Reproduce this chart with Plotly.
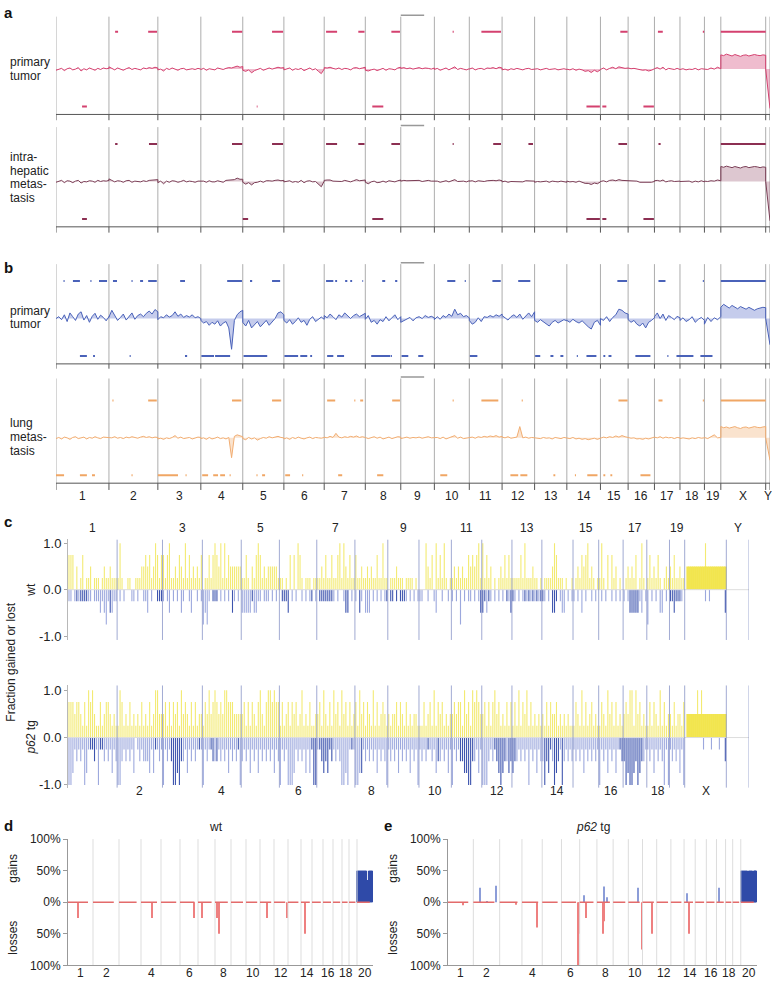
import plotly.graph_objects as go

W, H = 772, 994

# ---------------- data ----------------
CHROMS = [str(i) for i in range(1, 20)] + ['X', 'Y']
CHR_LEN_MB = [197, 182, 160, 156, 153, 150, 153, 132, 125, 130, 122, 121, 120, 125, 103, 98, 95, 91, 61, 167, 16]
CHR_LEN_C = [197, 182, 160, 156, 153, 150, 153, 132, 125, 130, 122, 121, 120, 125, 103, 98, 95, 91, 61, 167, 91]

# panel a/b log-ratio profiles (hundredths), one list per chromosome
PT_A = [
    [-3, -1, 2, -4, 1, 3, -2, 0, 4, -5, 1, -2, 3, 0, -3, 2, -1, 3, 1, 2],
    [6, 2, -2, 3, 0, -3, 1, 4, -1, 2, 0, -2, 3, 1, 4, 2, 5, 3],
    [-2, 0, -5, 2, -1, 3, 0, -3, 1, 2, -2, 0, 1, -1, 2, 0],
    [-1, 2, -3, 1, 0, -2, 3, 1, -1, 2, 4, 3, 6, 8, 5, 7],
    [-3, -6, -2, -10, -4, -1, 2, -3, 1, 3, 0, 2, 5, 3, 4],
    [-2, 0, 3, -3, 1, -1, 2, -4, 0, 3, -2, 1, -6, -12, 0],
    [4, 3, 5, 2, 0, 3, -1, 2, 1, -2, 3, 4, 1, 3, 5],
    [-3, -5, -2, 0, -4, -1, 2, -3, 1, 0, -2, 3, 5],
    [2, 4, 1, 3, 0, 2, 4, 1, 3, 2, 0, 3],
    [-1, 2, -3, 0, 3, -2, 1, 6, -1, 2, 0, -2, 1],
    [0, 3, -2, 1, 2, -1, 3, 2, 4, 1, 5, 3],
    [-2, 0, -3, 1, -1, 2, 0, -2, 1, 2, -1, 0],
    [-1, 1, -2, 0, 2, -1, 0, 1, -2, 0, 1, -1],
    [0, -2, 1, -3, 0, -2, -6, -4, -9, -3, -7, -2],
    [-1, 3, -2, 2, 5, 1, 6, 4, 2, 3],
    [3, 1, 2, 0, -1, -3, -2, -5, -3, -1],
    [1, 4, 0, 5, -2, 2, 1, -1, 2, 0],
    [-1, 1, -2, 0, -1, 2, -2, 1, 0],
    [2, -1, 3, 0, 5, 1],
    [38, 36, 40, 37, 35, 39, 36, 34, 37, 38, 35, 36, 39, 37, 36, 38, 37],
    [0, -105],
]
IHM_A = [
    [-2, 0, 3, -3, 2, 1, -3, 1, 3, -4, 0, -1, 2, 1, -2, 3, 0, 2, 1, 3],
    [7, 3, -1, 2, 1, -2, 2, 3, -2, 1, 1, -1, 2, 0, 3, 3, 4, 5],
    [-3, 1, -6, 1, -2, 2, 1, -2, 0, 3, -1, 1, 0, -2, 1, 1],
    [0, 1, -2, 2, -1, -1, 2, 0, -2, 3, 3, 4, 5, 9, 6, 6],
    [-2, -7, -3, -9, -3, -2, 1, -2, 2, 2, 1, 3, 4, 2, 3],
    [-1, 1, 2, -2, 0, -2, 3, -3, 1, 2, -1, 0, -7, -14, 1],
    [3, 4, 4, 1, 1, 2, 0, 3, 2, -1, 2, 5, 2, 2, 4],
    [-2, -6, -1, 1, -3, -2, 1, -2, 2, 1, -1, 2, 4],
    [1, 3, 2, 2, 1, 3, 3, 0, 2, 3, 1, 2],
    [0, 1, -2, 1, 2, -1, 2, 5, 0, 1, 1, -1, 2],
    [1, 2, -1, 2, 1, 0, 2, 3, 3, 2, 4, 2],
    [-1, 1, -2, 0, 0, 1, 1, -1, 2, 1, 0, 1],
    [-2, 0, -1, 1, 1, -2, 1, 0, -1, 1, 0, -2],
    [1, -1, 0, -2, 1, -3, -5, -5, -8, -4, -6, -1],
    [0, 2, -1, 3, 4, 2, 5, 3, 3, 2],
    [2, 2, 1, 1, -2, -2, -3, -4, -2, 0],
    [2, 3, 1, 4, -1, 1, 2, 0, 1, 1],
    [0, 0, -1, 1, -2, 1, -1, 2, -1],
    [1, 0, 2, 1, 4, 2],
    [40, 38, 41, 39, 37, 40, 38, 36, 39, 40, 37, 38, 40, 39, 37, 39, 38],
    [0, -105],
]
PT_B = [
    [0, 5, -3, 10, -8, 15, 5, -5, 12, 18, -4, 8, -10, 6, 14, -2, 9, 3, -6, 5],
    [4, 22, 10, -5, 3, 12, -4, 6, 15, -2, 8, 12, 5, 14, 20, 12, 24, 18],
    [-3, 5, 2, 10, 4, 8, 18, 6, 12, 3, 8, 4, 10, 2, 5, 0],
    [-5, -12, -8, -18, -10, -15, -6, -20, -12, -8, -25, -82, -5, 10, 18, 22],
    [-10, -20, -5, -25, -15, -8, -22, -12, -5, -18, -10, 0, 15, 18, 10],
    [-5, -12, -3, -15, -8, 2, -10, -5, -18, -2, 5, -8, -3, 4, -2],
    [8, 2, 12, 5, -3, 10, 4, 15, 6, 0, 8, 12, 5, 10, 14],
    [-2, 8, -10, -5, -15, -3, -8, 5, -6, 2, 10, -3, 5],
    [-10, -5, 0, 3, -6, 2, 5, 0, 8, 3, 6, 2],
    [-3, 5, -2, 8, 3, 12, 6, 25, 10, 14, 5, 8, 2],
    [-5, -15, -10, 2, -8, 5, 3, 8, 4, 10, 6, 12],
    [8, 2, -4, 5, 10, 3, 12, -2, 8, 15, 5, 18],
    [-5, -10, -3, -8, -15, -20, -10, -5, -12, -8, -3, -6],
    [-5, -10, -2, -8, -12, -6, -15, -22, -28, -10, -5, -18],
    [0, -5, 5, -8, 3, 10, 25, 22, 15, 12],
    [-3, -10, -5, -15, -20, -12, -25, -10, -5, 2],
    [5, 15, 0, 12, -5, 8, 3, -3, 6, 2],
    [-5, 2, -8, -3, 5, -10, -2, 3, -5],
    [-15, 3, -8, 2, -3, 5],
    [30, 38, 32, 28, 35, 30, 26, 32, 28, 25, 30, 27, 22, 26, 28, 30, 29],
    [0, -70],
]
LUNG_B = [
    [-2, 1, -3, 2, 0, -4, 1, 3, -2, 0, 2, -3, 1, -1, 3, 0, -2, 2, 1, 0],
    [2, 0, 3, -1, 1, -2, 2, 0, 3, 1, -1, 2, 4, 1, 3, 0, 2, 1],
    [-3, -1, -4, 0, -2, 1, 6, -1, 2, -2, 0, 1, -3, 0, 2, 1],
    [-2, 0, -4, 1, -3, -1, 2, -2, 0, -3, 1, -53, 4, 8, 6, 3],
    [-2, -5, 1, -3, 0, -6, -2, 1, -1, 3, 0, 2, 4, 1, 0],
    [-3, 0, -4, 1, -2, 2, -1, -3, 0, 2, -2, 1, 0, -1, 1],
    [2, 0, 4, 1, 12, 2, 0, 3, 1, 4, 2, 5, 1, 3, 2],
    [1, -2, 0, 3, -1, 2, -3, 0, 2, -2, 1, 3, 2],
    [-2, 0, 2, -1, 1, 0, 2, -1, 1, 3, 0, 1],
    [-1, 1, -2, 2, -3, 0, 1, 6, -1, 2, -2, 0, 1],
    [0, 2, -1, 3, 1, 4, 2, 5, 3, 6, 2, 4],
    [2, 0, 3, -1, 1, 2, 30, 0, 2, -1, 1, 0],
    [-1, 0, -2, 1, -1, 0, -3, 1, 0, -2, 1, 0],
    [0, -2, 1, -3, -1, -4, -2, -5, -3, -1, -4, -2],
    [-1, 2, 0, 3, 1, 5, 2, 6, 3, 2],
    [1, -1, 0, -3, -2, -4, -1, -3, 0, 1],
    [2, 0, 3, -1, 2, 0, 1, -2, 1, 0],
    [-2, 0, -1, -3, 0, -2, 1, -1, 0],
    [1, -2, 2, 8, 0, 1],
    [30, 27, 29, 26, 28, 30, 27, 25, 28, 29, 26, 27, 30, 28, 27, 29, 30],
    [0, -60],
]

# called gain / loss segments (genome Mb, start-end)
PT_A_GAIN = [(220, 231), (343, 376), (655, 693), (804, 845), (1005, 1046), (1125, 1148), (1248, 1280),
             (1476, 1480), (1583, 1656), (2100, 2127), (2240, 2258), (2407, 2412), (2474, 2641)]
PT_A_LOSS = [(97, 115), (747, 750), (1177, 1218), (1974, 2024), (2033, 2048), (2186, 2225)]
IHM_A_GAIN = [(220, 229), (346, 376), (655, 693), (804, 845), (1005, 1046), (1125, 1148), (1248, 1280),
              (1476, 1480), (1627, 1656), (1758, 1775), (2093, 2125), (2242, 2250), (2474, 2641)]
IHM_A_LOSS = [(97, 115), (695, 715), (1177, 1218), (1974, 2024), (2033, 2048), (2186, 2225)]
PT_B_GAIN = [(28, 32), (63, 89), (128, 132), (160, 190), (212, 227), (281, 285), (313, 324), (343, 375),
             (462, 480), (637, 692), (722, 730), (804, 834), (1005, 1032), (1039, 1046), (1076, 1084),
             (1095, 1102), (1140, 1143), (1214, 1225), (1262, 1270), (1456, 1486), (1521, 1525),
             (1624, 1655), (1720, 1765), (2089, 2125), (2242, 2268), (2407, 2411), (2474, 2641)]
PT_B_LOSS = [(89, 115), (138, 145), (274, 278), (480, 488), (541, 588), (592, 648), (698, 786),
             (850, 901), (909, 935), (946, 953), (1009, 1032), (1046, 1072), (1173, 1244), (1246, 1250),
             (1286, 1311), (1348, 1367), (1540, 1568), (1783, 1802), (1840, 1851), (1877, 1888),
             (1938, 1942), (1974, 2011), (2037, 2044), (2056, 2067), (2156, 2212), (2275, 2279),
             (2309, 2372), (2398, 2443)]
LUNG_B_GAIN = [(210, 214), (343, 375), (655, 690), (804, 838), (1009, 1039), (1110, 1114), (1132, 1143),
               (1251, 1280), (1476, 1480), (1583, 1646), (1733, 1737), (2093, 2127), (2242, 2257),
               (2407, 2411), (2474, 2641)]
LUNG_B_LOSS = [(0, 30), (89, 115), (134, 145), (281, 285), (379, 454), (482, 486), (544, 566), (585, 603),
               (611, 629), (646, 650), (746, 750), (767, 778), (853, 871), (916, 920), (1050, 1065),
               (1195, 1218), (1430, 1456), (1691, 1720), (1728, 1754), (1851, 1858), (1931, 1935),
               (1977, 2015), (2037, 2044), (2063, 2070), (2175, 2212)]
CHR9_MARK = (1283, 1370)

# panel c: fraction gained / lost per bin, in quarters (digits light, letters A-D dark)
WT_GAIN = ["3330201301120111012112111", "14100110011122323124313", "31341121321413121213",
           "01131343241413222222", "1131021343121222221", "1101030304310111011",
           "1121311311341421311", "31121121211311411", "0111211101111010", "0004213041314101",
           "121212113232341", "413120101213131", "111131411121101", "0111124311101001",
           "0121323412101", "141030312010", "012121301410", "13121310121", "21311211",
           "022222222242222222222", ""]
WT_LOSS = ["1101A1AAAA11011121231B211", "01010001101001120100AAA", "10120101021001200101",
           "32310AAA0101010B1010", "22222A2211011101010", "0AAAB01010010101A01",
           "0AAAAAAA101001BB010", "10B1022201010101A", "0AA0A0AAA1010101", "1100100120010010",
           "10103010110101B", "BA2A10101010A1B", "A10101A1A1A1A1A", "A1010BBA01220101",
           "1010201001010", "010100101010", "101BBBBB1201", "30101022010", "AABAAA10",
           "00000000001010000000B", ""]
P62_GAIN = ["3332332131434211312332121", "14312131212131213124422", "23131323142321313122",
            "13242343232443332222", "2313132134213443433", "1312313231241213112",
            "2314213142314231312", "31423132141312321", "2122313213121221", "1131231413231212",
            "232331423143432", "231313423121313", "131413241312121", "2131322312121211",
            "1321413123121", "132142313121", "232441423121", "13132141312", "21312213",
            "022222424222222222222", ""]
P62_LOSS = ["44312121431AAB14AA2121312", "4421212130121222313A121", "4121BDDCDB21312121A1",
            "4121AB2B1212131212A4", "2121312131212121312", "4121444312121313ADD",
            "1ABCBCAB121244341A1", "443C1212121312124", "1212131212131214", "1212A1213B212131",
            "4121BBCCDDB2131", "444212ABCDCB2CB", "CB2121214121312", "2DBCA2DCB1D21212",
            "1212131212121", "4121312131AB", "BDCDDCBDCB21", "12131212414", "12121314",
            "00000000010001000100B", ""]

# panels d / e: chromosome bin widths and frequencies (%)
DE_WIDTH = [25, 26, 22, 20, 19, 18, 17, 16, 15, 14, 14, 14, 13, 11, 11, 10, 9, 7, 8, 16]
DE_LABELS = ['1', '2', '4', '6', '8', '10', '12', '14', '16', '18', '20']
D_LOSS_POS = [10, 84, 126, 134, 149, 151, 199, 219, 237]
D_LOSS_VAL = [25, 25, 25, 25, 25, 50, 25, 25, 50]
D_X_GAIN = [50, 50, 50, 50, 50, 50, 50, 50, 50, 50, 35, 35, 50, 50, 50, 50]
E_GAIN_POS = [32, 38.5, 47, 134, 154, 157, 187.5, 236, 267.5]
E_GAIN_VAL = [23, 2, 26, 11, 25, 8, 23, 14, 23]
E_LOSS_POS = [15, 67, 88, 128, 129, 136, 153, 154, 191.5, 201, 238]
E_LOSS_VAL = [5, 4, 40, 100, 50, 25, 50, 30, 75, 50, 50]
E_X_GAIN = [50, 50, 50, 50, 50, 50, 50, 45, 50, 50, 50, 50, 45, 50, 50, 50, 50]


# ---------------- helpers ----------------
def fx(p):
    return p / W


def fy(p):
    return 1 - p / H


def cum_starts(lens):
    s, out = 0, []
    for L in lens:
        out.append(s)
        s += L
    return out


ST_AB = cum_starts(CHR_LEN_MB)
TOT_AB = sum(CHR_LEN_MB)
ST_C = cum_starts(CHR_LEN_C)
TOT_C = sum(CHR_LEN_C)
ST_DE = cum_starts(DE_WIDTH)
TOT_DE = sum(DE_WIDTH)
FONT = 'Arial, Liberation Sans, sans-serif'

fig = go.Figure()
annots = []


def ann(text, x, y, size=12, xanchor='center', yanchor='middle', angle=0, color='#222'):
    annots.append(dict(text=text, x=fx(x), y=fy(y), xref='paper', yref='paper', showarrow=False,
                       xanchor=xanchor, yanchor=yanchor, textangle=angle,
                       font=dict(size=size, color=color, family=FONT)))


def line_trace(xs, ys, color, width, ax):
    fig.add_trace(go.Scatter(x=xs, y=ys, mode='lines', line=dict(color=color, width=width),
                             xaxis='x' + ax, yaxis='y' + ax, hoverinfo='skip', showlegend=False))


# ---------------- panels a / b ----------------
AXV = -1.21
tracks = [
    ('', PT_A, PT_A_GAIN, PT_A_LOSS, 6, 116, 63, '#d4416f', 'rgba(214,80,125,0.38)', '#d4416f',
     [('primary', 56), ('tumor', 70)]),
    ('2', IHM_A, IHM_A_GAIN, IHM_A_LOSS, 118, 230, 177, '#7a3d55', 'rgba(150,80,110,0.32)', '#8c2f52',
     [('intra-', 152), ('hepatic', 166), ('metas-', 180), ('tasis', 194)]),
    ('3', PT_B, PT_B_GAIN, PT_B_LOSS, 257, 368, 316, '#4a62b9', 'rgba(90,110,200,0.35)', '#4a62b9',
     [('primary', 308), ('tumor', 322)]),
    ('4', LUNG_B, LUNG_B_GAIN, LUNG_B_LOSS, 373, 491, 437, '#f1ad72', 'rgba(242,175,115,0.35)', '#f0a664',
     [('lung', 422), ('metas-', 436), ('tasis', 450)]),
]
bounds_ab = ST_AB + [TOT_AB]
layout_axes = {}
for ax, prof, gains, losses, ptop, pbot, pz, lc, fc, sc, labels in tracks:
    vtop = (pz - ptop) / 38.0
    vbot = (pz - pbot) / 38.0
    vx, vy, tx, ty = [], [], [], []
    for b in bounds_ab:
        vx += [b, b, None]
        vy += [vtop - 0.1, AXV, None]
        tx += [b, b, None]
        ty += [AXV, vbot + 0.03, None]
    line_trace(vx, vy, '#adadad', 1, ax)
    line_trace(tx, ty, '#555555', 1, ax)
    line_trace([0, TOT_AB], [AXV, AXV], '#555555', 1, ax)
    line_trace([CHR9_MARK[0], CHR9_MARK[1]], [vtop - 0.06, vtop - 0.06], '#999999', 1.5, ax)
    xs, ys = [], []
    for st, L, vals in zip(ST_AB, CHR_LEN_MB, prof):
        n = len(vals)
        for i, v in enumerate(vals):
            xs.append(st + L * i / (n - 1))
            ys.append(v / 100.0)
    fig.add_trace(go.Scatter(x=xs, y=ys, mode='lines', line=dict(color=lc, width=1), fill='tozeroy',
                             fillcolor=fc, xaxis='x' + ax, yaxis='y' + ax, hoverinfo='skip',
                             showlegend=False))
    gx, gy = [], []
    for s, e in gains:
        gx += [s, e, None]
        gy += [1, 1, None]
    line_trace(gx, gy, sc, 2, ax)
    lx, ly = [], []
    for s, e in losses:
        lx += [s, e, None]
        ly += [-1, -1, None]
    line_trace(lx, ly, sc, 2, ax)
    layout_axes['xaxis' + ax] = dict(domain=[fx(56), fx(770)], range=[0, TOT_AB], visible=False,
                                     anchor='y' + ax)
    layout_axes['yaxis' + ax] = dict(domain=[fy(pbot), fy(ptop)], range=[vbot, vtop], visible=False,
                                     anchor='x' + ax)
    for t, yy in labels:
        ann(t, 8, yy, size=12, xanchor='left')

for c, st, L in zip(CHROMS, ST_AB, CHR_LEN_MB):
    annots.append(dict(text=c, x=st + L / 2, y=fy(496), xref='x4', yref='paper', showarrow=False,
                       font=dict(size=12, color='#222', family=FONT)))


# ---------------- panel c ----------------
def decode(s):
    out = []
    for ch in s:
        if ch.isdigit():
            out.append((int(ch) / 4.0, False))
        else:
            out.append(((ord(ch) - 64) / 4.0, True))
    return out


def c_panel(gain_strs, loss_strs, ax, ptop, pbot, pz, unit):
    vtop = (pz - ptop) / unit
    vbot = (pz - pbot) / unit
    line_trace([0, TOT_C], [0, 0], '#dddddd', 1, ax)
    groups = {'gain': ([], [], []), 'gainX': ([], [], []), 'loss': ([], [], []), 'lossD': ([], [], [])}

    def put(g, x, y, w):
        groups[g][0].append(x)
        groups[g][1].append(y)
        groups[g][2].append(w)

    for sign, strs in ((1, gain_strs), (-1, loss_strs)):
        for ci, s in enumerate(strs):
            n = len(s)
            if n == 0:
                continue
            sp = CHR_LEN_C[ci] / n
            for i, (v, dark) in enumerate(decode(s)):
                if v == 0:
                    continue
                x = ST_C[ci] + sp * (i + 0.5)
                if sign > 0:
                    if CHROMS[ci] == 'X':
                        put('gainX', x, min(v, 0.5), sp * 1.3)
                        if v > 0.5:
                            put('gain', x, v, sp * 0.55)
                    else:
                        put('gain', x, v, sp * 0.55)
                else:
                    put('lossD' if dark else 'loss', x, -v, sp * 0.55)
    colors = {'gain': 'rgba(238,226,60,0.72)', 'gainX': '#f2e54e', 'loss': 'rgba(95,115,200,0.62)',
              'lossD': 'rgba(40,65,165,0.9)'}
    for g in ('gain', 'gainX', 'loss', 'lossD'):
        xs, ys, ws = groups[g]
        fig.add_trace(go.Bar(x=xs, y=ys, width=ws, marker=dict(color=colors[g], line=dict(width=0)),
                             xaxis='x' + ax, yaxis='y' + ax, hoverinfo='skip', showlegend=False))
    vx, vy = [], []
    for b in ST_C[1:] + [TOT_C]:
        vx += [b, b, None]
        vy += [vbot, vtop, None]
    line_trace(vx, vy, 'rgba(130,142,195,0.75)', 1, ax)
    layout_axes['xaxis' + ax] = dict(domain=[fx(68), fx(749)], range=[0, TOT_C], visible=False,
                                     anchor='y' + ax)
    layout_axes['yaxis' + ax] = dict(domain=[fy(pbot), fy(ptop)], range=[vbot, vtop], anchor='x' + ax,
                                     tickvals=[-1, 0, 1], ticktext=['-1.0', '0.0', '1.0'],
                                     ticks='outside', ticklen=3, tickcolor='#aaaaaa', showline=True,
                                     linecolor='#b8b8b8', linewidth=1, showgrid=False, zeroline=False,
                                     tickfont=dict(size=13, color='#222', family=FONT))


c_panel(WT_GAIN, WT_LOSS, '5', 540, 642, 591, 47.0)
c_panel(P62_GAIN, P62_LOSS, '6', 688, 792, 741, 48.0)

for k, (c, st, L) in enumerate(zip(CHROMS, ST_C, CHR_LEN_C)):
    ypx = 528 if k % 2 == 0 else 804
    if c == 'X':
        ypx = 804
    if c == 'Y':
        ypx = 528
    annots.append(dict(text=c, x=st + L / 2, y=fy(ypx), xref='x5', yref='paper', showarrow=False,
                       font=dict(size=12, color='#222', family=FONT)))

ann('Fraction gained or lost', 11, 665, size=12, angle=-90)
ann('wt', 31, 591, size=12, angle=-90)
ann('<i>p62</i> tg', 31, 741, size=12, angle=-90)


# ---------------- panels d / e ----------------
def de_panel(ax, x0, x1, loss_pos, loss_val, gain_pos, gain_val, x_gain, title, tx, lx):
    vx, vy = [], []
    for b in ST_DE[1:]:
        vx += [b, b, None]
        vy += [-100, 100, None]
    line_trace(vx, vy, '#dddddd', 1, ax)
    bx, by = [], []
    for st, w in zip(ST_DE, DE_WIDTH):
        bx += [st, st + 0.8 * w, None]
        by += [0, 0, None]
    line_trace(bx, by, '#e36b6b', 1.5, ax)
    fig.add_trace(go.Bar(x=loss_pos, y=[-v for v in loss_val], width=1.1,
                         marker=dict(color='#ee8080', line=dict(width=0)),
                         xaxis='x' + ax, yaxis='y' + ax, hoverinfo='skip', showlegend=False))
    if gain_pos:
        fig.add_trace(go.Bar(x=gain_pos, y=gain_val, width=1.1,
                             marker=dict(color='#8c9dd8', line=dict(width=0)),
                             xaxis='x' + ax, yaxis='y' + ax, hoverinfo='skip', showlegend=False))
    xst = ST_DE[-1]
    nx = len(x_gain)
    sp = DE_WIDTH[-1] / nx
    fig.add_trace(go.Bar(x=[xst + sp * (i + 0.5) for i in range(nx)], y=x_gain, width=sp * 1.3,
                         marker=dict(color='#2f4aa8', line=dict(width=0)),
                         xaxis='x' + ax, yaxis='y' + ax, hoverinfo='skip', showlegend=False))
    layout_axes['xaxis' + ax] = dict(domain=[fx(x0), fx(x1)], range=[0, TOT_DE], anchor='y' + ax,
                                     showline=True, linecolor='#999999', showticklabels=False,
                                     ticks='', showgrid=False, zeroline=False)
    layout_axes['yaxis' + ax] = dict(domain=[fy(972), fy(844)], range=[-100, 100], anchor='x' + ax,
                                     tickvals=[-100, -50, 0, 50, 100],
                                     ticktext=['100%', '50%', '0%', '50%', '100%'], ticks='outside',
                                     ticklen=4, tickcolor='#999999', showline=True, linecolor='#999999',
                                     showgrid=False, zeroline=False,
                                     tickfont=dict(size=12, color='#222', family=FONT))
    for st, w, c in zip(ST_DE, DE_WIDTH, [str(i) for i in range(1, 21)]):
        if c in DE_LABELS:
            annots.append(dict(text=c, x=st + w / 2, y=fy(989), xref='x' + ax, yref='paper',
                               showarrow=False, font=dict(size=12, color='#222', family=FONT)))
    ann(title, tx, 832, size=12)
    ann('gains', lx, 874, size=12, angle=-90)
    ann('losses', lx, 944, size=12, angle=-90)


de_panel('7', 68, 373, D_LOSS_POS, D_LOSS_VAL, [], [], D_X_GAIN, 'wt', 216, 13)
de_panel('8', 448, 757, E_LOSS_POS, E_LOSS_VAL, E_GAIN_POS, E_GAIN_VAL, E_X_GAIN, '<i>p62</i> tg', 593, 393)

for t, x, y in (('a', 2, 6), ('b', 2, 264), ('c', 2, 522), ('d', 2, 830), ('e', 382, 830)):
    ann('<b>%s</b>' % t, x, y, size=15, xanchor='left', color='#111')

fig.update_layout(width=W, height=H, margin=dict(l=0, r=0, t=0, b=0), autosize=False,
                  paper_bgcolor='white', plot_bgcolor='rgba(0,0,0,0)', barmode='overlay',
                  showlegend=False, annotations=annots, **layout_axes)

fig.write_html('out.html', config={'displayModeBar': False},
               post_script="document.body.style.margin='0px';")
